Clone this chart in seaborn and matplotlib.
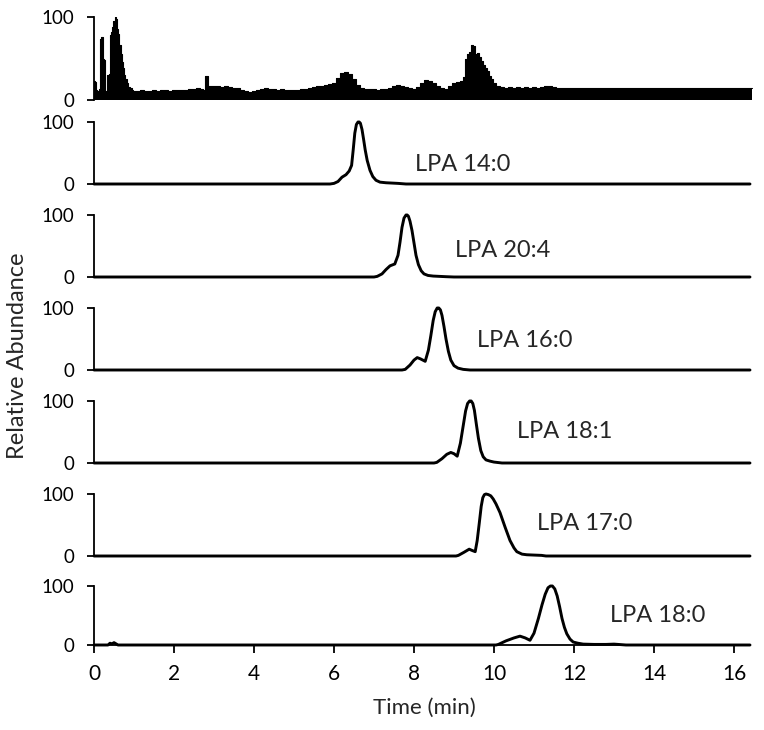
import matplotlib
matplotlib.use("Agg")
import matplotlib.pyplot as plt
import seaborn as sns
import pandas as pd

# ---------------- data ----------------
tic_time = [0.00, 0.03, 0.06, 0.10, 0.14, 0.17, 0.20, 0.23, 0.26, 0.29, 0.32, 0.35, 0.38,
            0.41, 0.44, 0.47, 0.50, 0.53, 0.56, 0.59, 0.62, 0.65, 0.68, 0.71, 0.74, 0.77,
            0.80, 0.84, 0.88, 0.92, 0.96, 1.00,
            1.1, 1.2, 1.3, 1.4, 1.5, 1.6, 1.7, 1.8, 1.9, 2.0, 2.1, 2.2, 2.3, 2.4, 2.5, 2.6,
            2.7, 2.77, 2.80, 2.83, 2.86,
            2.9, 3.0, 3.1, 3.2, 3.3, 3.4, 3.5, 3.6, 3.7, 3.8, 3.9, 4.0, 4.1, 4.2, 4.3, 4.4,
            4.5, 4.6, 4.7, 4.8, 4.9, 5.0, 5.1, 5.2, 5.3, 5.4, 5.5, 5.6, 5.7, 5.8, 5.9, 6.0,
            6.1, 6.2, 6.3, 6.4, 6.5, 6.6, 6.7, 6.8, 6.9, 7.0, 7.1, 7.2, 7.3, 7.4, 7.5, 7.6,
            7.7, 7.8, 7.9, 8.0, 8.1, 8.2, 8.3, 8.4, 8.5, 8.6, 8.7, 8.8, 8.9, 9.0, 9.1, 9.2,
            9.25, 9.3, 9.35, 9.4, 9.45, 9.5, 9.55, 9.6, 9.65, 9.7, 9.75, 9.8, 9.85, 9.9, 9.95,
            10.0, 10.1, 10.2, 10.3, 10.4, 10.5, 10.6, 10.7, 10.8, 10.9, 11.0, 11.1, 11.2,
            11.3, 11.4, 11.5, 11.6, 11.7, 11.8, 11.9, 12.0, 12.2, 12.4, 12.6, 12.8, 13.0,
            13.2, 13.4, 13.6, 13.8, 14.0, 14.2, 14.4, 14.6, 14.8, 15.0, 15.2, 15.4, 15.6,
            15.8, 16.0, 16.2, 16.44]
tic_value = [23, 22, 12, 11, 13, 74, 76, 50, 48, 10, 11, 30, 31,
             78, 82, 88, 95, 100, 97, 85, 80, 66, 55, 46, 38, 30,
             25, 20, 16, 14, 12, 11,
             11, 12, 11, 11, 12, 11, 12, 12, 11, 12, 12, 12, 12, 13, 13, 14,
             13, 12, 29, 29, 17,
             17, 17, 17, 16, 17, 16, 15, 14, 12, 11, 10, 11, 12, 13, 14, 13,
             13, 12, 13, 12, 12, 12, 12, 13, 13, 15, 16, 17, 17, 18, 19, 20,
             26, 32, 34, 31, 25, 18, 14, 13, 13, 13, 12, 13, 13, 15, 17, 18,
             17, 16, 15, 13, 16, 21, 24, 23, 20, 17, 14, 13, 17, 20, 22, 23,
             28, 50, 55, 58, 66, 65, 56, 57, 52, 47, 42, 38, 35, 29, 25,
             21, 17, 16, 15, 16, 15, 16, 15, 16, 15, 16, 15, 16,
             17, 17, 16, 15, 14, 15, 14, 14, 15, 14, 14, 15, 14,
             14, 15, 14, 14, 15, 14, 14, 15, 14, 14, 15, 14, 14,
             15, 14, 14, 14]

lpa140_time = [0, 5.9, 6.0, 6.1, 6.2, 6.3, 6.38, 6.44, 6.48, 6.52, 6.56, 6.6, 6.63, 6.66,
               6.7, 6.74, 6.78, 6.83, 6.9, 6.97, 7.05, 7.15, 7.3, 7.6, 7.8, 16.4]
lpa140_value = [0, 0, 1, 4, 11, 15, 21, 30, 55, 82, 96, 100, 100, 98,
                88, 72, 55, 38, 22, 12, 6, 3, 2, 1, 0, 0]

lpa204_time = [0, 7.0, 7.08, 7.2, 7.3, 7.4, 7.52, 7.6, 7.65, 7.7, 7.75, 7.8, 7.83, 7.86,
               7.9, 7.95, 8.0, 8.05, 8.11, 8.18, 8.25, 8.35, 8.48, 8.8, 9.0, 16.4]
lpa204_value = [0, 0, 1, 5, 12, 18, 21, 35, 56, 80, 95, 100, 100, 98,
                90, 75, 55, 35, 20, 10, 5, 2.5, 1.5, 0.5, 0, 0]

lpa160_time = [0, 7.7, 7.78, 7.9, 8.0, 8.08, 8.16, 8.28, 8.36, 8.42, 8.48, 8.53, 8.58,
               8.62, 8.66, 8.7, 8.75, 8.8, 8.86, 8.92, 9.0, 9.1, 9.23, 9.4, 16.4]
lpa160_value = [0, 0, 1, 8, 16, 20, 18, 14, 32, 55, 80, 94, 100,
                100, 97, 88, 70, 50, 30, 16, 7, 3, 1, 0, 0]

lpa181_time = [0, 8.5, 8.57, 8.7, 8.82, 8.92, 9.0, 9.08, 9.16, 9.23, 9.29, 9.34, 9.39,
               9.43, 9.47, 9.51, 9.56, 9.61, 9.67, 9.73, 9.8, 9.9, 10.0, 10.2, 16.4]
lpa181_value = [0, 0, 1, 7, 14, 17, 15, 11, 32, 60, 84, 96, 100,
                100, 96, 85, 62, 40, 20, 10, 5, 3, 1.5, 0, 0]

lpa170_time = [0, 9.05, 9.11, 9.25, 9.38, 9.45, 9.53, 9.58, 9.63, 9.68, 9.72, 9.76, 9.8,
               9.86, 9.92, 9.98, 10.05, 10.15, 10.28, 10.4, 10.5, 10.57, 10.7, 10.82,
               11.0, 11.19, 11.3, 16.4]
lpa170_value = [0, 0, 1, 6, 11, 9, 7, 25, 52, 80, 94, 99, 100,
                99, 97, 92, 84, 70, 46, 25, 13, 7, 3, 2, 1.5, 1, 0, 0]

lpa180_time = [0, 0.35, 0.4, 0.45, 0.5, 0.55, 0.6, 10.05, 10.11, 10.3, 10.5, 10.65, 10.78,
               10.9, 11.0, 11.11, 11.2, 11.28, 11.35, 11.41, 11.46, 11.52, 11.58, 11.64,
               11.7, 11.76, 11.82, 11.9, 11.98, 12.1, 12.23, 12.5, 12.8, 13.0, 13.1, 13.3,
               16.4]
lpa180_value = [0, 0, 3, 2, 4, 2, 0, 0, 1, 7, 12, 15, 12,
                8, 20, 45, 68, 86, 97, 100, 100, 95, 83, 65,
                45, 30, 19, 10, 5, 3, 1.5, 1, 1, 1.5, 1, 0,
                0]

lpa_names = ["LPA 14:0", "LPA 20:4", "LPA 16:0", "LPA 18:1", "LPA 17:0", "LPA 18:0"]
label_time = [8.03, 9.03, 9.58, 10.58, 11.08, 12.9]
label_level = [32, 42, 48, 50, 52, 50]
x_ticks = [0, 2, 4, 6, 8, 10, 12, 14, 16]
y_ticks = [0, 100]

traces = [(lpa140_time, lpa140_value), (lpa204_time, lpa204_value),
          (lpa160_time, lpa160_value), (lpa181_time, lpa181_value),
          (lpa170_time, lpa170_value), (lpa180_time, lpa180_value)]

# ---------------- figure ----------------
sns.set_style("white")
plt.rcParams["font.family"] = ["Lato", "DejaVu Sans"]

W, H = 764, 730
fig = plt.figure(figsize=(W / 100, H / 100), dpi=100)

x0_px = 94
px_per_min = 40
xmax = 16.5
panels_px = [(17, 100), (122, 184), (215, 277), (308, 370),
             (401, 463), (494, 556), (586, 645)]

tick_fs = 13.5
axes = []
for top, bottom in panels_px:
    ax = fig.add_axes([x0_px / W, 1 - bottom / H, xmax * px_per_min / W, (bottom - top) / H])
    ax.set_xlim(0, xmax)
    ax.set_ylim(0, 100)
    for s in ["top", "right", "bottom"]:
        ax.spines[s].set_visible(False)
    ax.spines["left"].set_linewidth(1.3)
    ax.spines["left"].set_color("black")
    ax.set_yticks(y_ticks)
    ax.set_yticklabels([str(v) for v in y_ticks])
    ax.tick_params(axis="y", direction="out", length=5, width=1.3, pad=9,
                   labelsize=tick_fs, colors="black", left=True)
    ax.set_xticks([])
    ax.set_facecolor("none")
    axes.append(ax)

# top panel: total ion chromatogram (filled)
tic_df = pd.DataFrame({"time": tic_time, "value": tic_value})
ax = axes[0]
ax.fill_between(tic_df["time"], tic_df["value"], step="mid", color="black", lw=0)
sns.lineplot(data=tic_df, x="time", y="value", ax=ax, color="black", lw=0.8,
             drawstyle="steps-mid", estimator=None)
ax.set_xlabel("")
ax.set_ylabel("")

# extracted ion chromatograms
for i, ((t, v), name) in enumerate(zip(traces, lpa_names)):
    ax = axes[i + 1]
    df = pd.DataFrame({"time": t, "value": v})
    sns.lineplot(data=df, x="time", y="value", ax=ax, color="black", lw=2.1,
                 estimator=None, clip_on=False)
    ax.set_xlabel("")
    ax.set_ylabel("")
    ax.text(label_time[i], label_level[i], name, fontsize=17, va="center", ha="left")

# bottom axis
ax = axes[-1]
ax.spines["bottom"].set_visible(True)
ax.spines["bottom"].set_linewidth(1.3)
ax.spines["bottom"].set_color("black")
ax.spines["bottom"].set_bounds(0, 16)
ax.set_xticks(x_ticks)
ax.set_xticklabels([str(v) for v in x_ticks])
ax.tick_params(axis="x", direction="out", length=6, width=1.3, pad=8,
               labelsize=15, colors="black", bottom=True)

fig.text(424 / W, 1 - 708 / H, "Time (min)", fontsize=16, ha="center", va="center")
fig.text(18 / W, 1 - 356 / H, "Relative Abundance", rotation=90, fontsize=17,
         ha="center", va="center")

fig.savefig("out.png", dpi=100, facecolor="white")
